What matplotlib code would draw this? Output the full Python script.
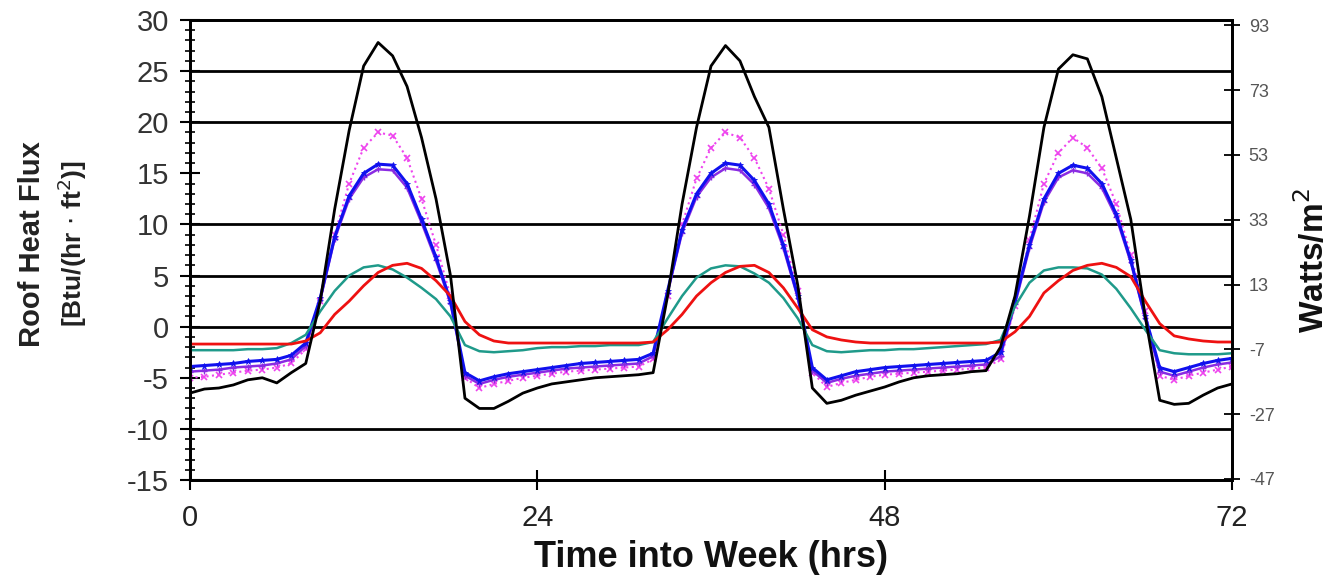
import matplotlib
matplotlib.use("Agg")
import matplotlib.pyplot as plt
from matplotlib.ticker import MultipleLocator
import numpy as np

plt.rcParams['font.family'] = ['Liberation Sans', 'DejaVu Sans']
plt.rcParams['axes.unicode_minus'] = False

hours = list(range(0, 73))

black = [-6.5, -6.1, -6.0, -5.7, -5.2, -5.0, -5.5, -4.5, -3.6, 2.5,
         11.5, 19.2, 25.5, 27.8, 26.5, 23.5, 18.5, 12.5, 5.0, -7.0,
         -8.0, -8.0, -7.3, -6.5, -6.0, -5.6, -5.4, -5.2, -5.0, -4.9,
         -4.8, -4.7, -4.5, 3.0, 12.0, 19.5, 25.5, 27.5, 26.0, 22.5,
         19.5, 11.5, 4.0, -6.0, -7.5, -7.2, -6.7, -6.3, -5.9, -5.4,
         -5.0, -4.8, -4.7, -4.6, -4.4, -4.3, -2.0, 3.0, 10.8, 19.5,
         25.2, 26.6, 26.2, 22.5, 16.5, 10.5, 1.0, -7.2, -7.6, -7.5,
         -6.7, -6.0, -5.6]

magenta = [-5.0, -4.9, -4.7, -4.5, -4.3, -4.2, -4.0, -3.6, -2.2, 2.5,
           9.0, 14.0, 17.5, 19.0, 18.7, 16.5, 12.5, 8.0, 3.0, -5.0,
           -6.0, -5.6, -5.3, -5.0, -4.8, -4.6, -4.4, -4.3, -4.2, -4.1,
           -4.0, -3.9, -3.2, 3.0, 10.0, 14.5, 17.5, 19.0, 18.5, 16.5,
           13.5, 9.0, 3.5, -4.5, -5.9, -5.5, -5.2, -4.9, -4.7, -4.6,
           -4.5, -4.4, -4.3, -4.2, -4.1, -4.0, -3.2, 2.0, 8.5, 14.0,
           17.0, 18.5, 17.5, 15.5, 12.0, 7.0, 1.5, -4.8, -5.2, -4.8,
           -4.5, -4.2, -3.9]

purple = [-4.4, -4.3, -4.2, -4.0, -3.9, -3.8, -3.6, -3.2, -1.9, 2.6,
          8.6, 12.5, 14.6, 15.4, 15.3, 13.6, 10.2, 6.5, 2.3, -4.8,
          -5.6, -5.2, -4.9, -4.7, -4.5, -4.3, -4.1, -4.0, -3.9, -3.8,
          -3.7, -3.6, -2.9, 3.3, 9.2, 12.7, 14.6, 15.5, 15.3, 13.9,
          11.6, 7.7, 2.8, -4.3, -5.5, -5.1, -4.8, -4.6, -4.4, -4.3,
          -4.2, -4.1, -4.0, -3.9, -3.8, -3.7, -2.9, 2.2, 7.7, 12.2,
          14.6, 15.3, 15.0, 13.6, 10.7, 6.3, 0.8, -4.4, -4.8, -4.4,
          -4.0, -3.7, -3.5]

blue = [-3.9, -3.8, -3.7, -3.6, -3.4, -3.3, -3.2, -2.8, -1.6, 2.8,
        8.8, 12.8, 15.0, 15.9, 15.8, 14.0, 10.5, 6.8, 2.5, -4.5,
        -5.3, -4.9, -4.6, -4.4, -4.2, -4.0, -3.8, -3.6, -3.5, -3.4,
        -3.3, -3.2, -2.6, 3.5, 9.5, 13.0, 15.0, 16.0, 15.8, 14.3,
        12.0, 8.0, 3.0, -4.0, -5.2, -4.8, -4.4, -4.2, -4.0, -3.9,
        -3.8, -3.7, -3.6, -3.5, -3.4, -3.3, -2.5, 2.5, 8.0, 12.5,
        15.0, 15.8, 15.5, 14.0, 11.0, 6.5, 1.0, -4.0, -4.4, -4.0,
        -3.6, -3.3, -3.1]

teal = [-2.3, -2.3, -2.3, -2.3, -2.2, -2.2, -2.1, -1.6, -0.8, 1.5,
        3.5, 5.0, 5.8, 6.0, 5.6, 4.8, 3.8, 2.7, 1.0, -1.8,
        -2.4, -2.5, -2.4, -2.3, -2.1, -2.0, -2.0, -1.9, -1.9, -1.8,
        -1.8, -1.8, -1.5, 0.8, 3.0, 4.8, 5.7, 6.0, 5.9, 5.2,
        4.3, 2.8, 0.8, -1.8, -2.4, -2.5, -2.4, -2.3, -2.3, -2.2,
        -2.2, -2.1, -2.0, -1.9, -1.8, -1.7, -1.3, 2.0, 4.3, 5.5,
        5.8, 5.8, 5.7, 5.1, 3.7, 1.8, -0.3, -2.3, -2.6, -2.7,
        -2.7, -2.7, -2.6]

red = [-1.7, -1.7, -1.7, -1.7, -1.7, -1.7, -1.7, -1.7, -1.4, -0.6,
       1.2, 2.5, 4.0, 5.3, 6.0, 6.2, 5.7, 4.5, 3.0, 0.5,
       -0.8, -1.4, -1.6, -1.6, -1.6, -1.6, -1.6, -1.6, -1.6, -1.6,
       -1.6, -1.6, -1.5, -0.3, 1.2, 3.0, 4.3, 5.3, 5.9, 6.0,
       5.3, 3.8, 1.8, -0.3, -1.0, -1.3, -1.5, -1.6, -1.6, -1.6,
       -1.6, -1.6, -1.6, -1.6, -1.6, -1.6, -1.5, -0.5, 1.0, 3.3,
       4.5, 5.5, 6.0, 6.2, 5.8, 4.9, 2.5, 0.3, -0.9, -1.2,
       -1.4, -1.5, -1.5]

x_ticks = [0, 24, 48, 72]
y_ticks = [-15, -10, -5, 0, 5, 10, 15, 20, 25, 30]
gridlines = [25, 20, 10, 5, 0, -10]
right_ticks = [-47, -27, -7, 13, 33, 53, 73, 93]
BTU_TO_W = 3.1546

fig = plt.figure(figsize=(13.32, 5.8), dpi=100)
ax = fig.add_axes([0.1426, 0.1724, 0.925 - 0.1426, 0.9655 - 0.1724])

for g in gridlines:
    ax.axhline(g, color='black', lw=2.0, zorder=1)

ax.plot(hours, black, color='black', lw=2.0, zorder=6)
ax.plot(hours, magenta, color='#ee44ee', lw=1.5, ls=':', marker='x', ms=4,
        mew=1.2, zorder=3)
ax.plot(hours, purple, color='#8a2be2', lw=1.8, marker='+', ms=4, mew=1.0,
        zorder=4)
ax.plot(hours, blue, color='#1010ee', lw=2.2, marker='*', ms=5, mew=0.5,
        zorder=5)
ax.plot(hours, teal, color='#1f9a8a', lw=1.8, zorder=5)
ax.plot(hours, red, color='#ee1111', lw=2.0, zorder=5)

ax.set_xlim(0, 72)
ax.set_ylim(-15, 30)
ax.set_xticks(x_ticks)
ax.set_yticks(y_ticks)
ax.yaxis.set_minor_locator(MultipleLocator(1))
ax.tick_params(axis='y', which='major', direction='inout', length=14, width=1.5,
               labelsize=21, labelcolor='#333333', pad=8)
ax.tick_params(axis='y', which='minor', direction='inout', length=7, width=1.2)
ax.tick_params(axis='x', which='major', direction='inout', length=14, width=1.5,
               labelsize=21, labelcolor='#222222', pad=10)
for s in ax.spines.values():
    s.set_linewidth(2.0)

ax2 = ax.twinx()
ax2.set_ylim(-15 * BTU_TO_W, 30 * BTU_TO_W)
ax2.set_yticks(right_ticks)
ax2.tick_params(axis='y', direction='inout', length=12, width=1.3,
                labelsize=13, labelcolor='#555555', pad=6)
for s in ax2.spines.values():
    s.set_linewidth(2.0)

fig.text(0.024, 0.58, 'Roof Heat Flux', rotation=90, ha='center', va='center',
         fontsize=21, fontweight='bold', color='#222222')
fig.text(0.054, 0.58, r'[Btu/(hr $\cdot$ ft$^2$)]', rotation=90, ha='center',
         va='center', fontsize=19, fontweight='bold', color='#222222')
fig.text(0.534, 0.038, 'Time into Week (hrs)', ha='center', va='center',
         fontsize=26, fontweight='bold', color='#111111')
fig.text(0.986, 0.55, r'Watts/m$^2$', rotation=90, ha='center', va='center',
         fontsize=24, fontweight='bold', color='#111111')

fig.savefig('out.png', dpi=100)
